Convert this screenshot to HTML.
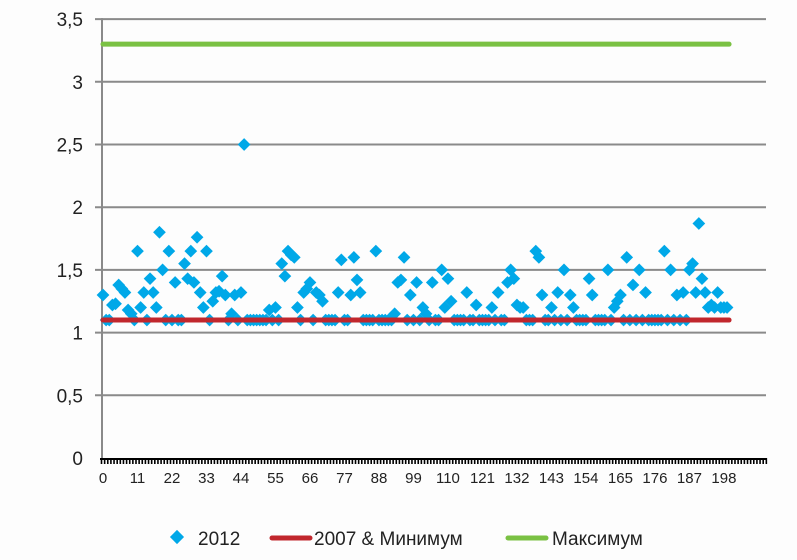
<!DOCTYPE html>
<html><head><meta charset="utf-8">
<style>
html,body{margin:0;padding:0;background:#fdfdfd;}
svg{display:block;font-family:"Liberation Sans","DejaVu Sans",sans-serif;}
</style></head>
<body>
<svg id="chart" width="797" height="560" viewBox="0 0 797 560">
<g id="grid"></g>
<g id="yaxis"></g>
<g id="xaxis"></g>
<g id="series"></g>
<g id="legend">
  <g>
    <rect x="172" y="532" width="10" height="10" fill="#00a8e8" transform="rotate(45 177 537)"></rect>
    <text x="198" y="545" font-size="19" fill="#222">2012</text>
  </g>
  <g>
    <line x1="272" y1="538" x2="310" y2="538" stroke="#c1272d" stroke-width="5" stroke-linecap="round"></line>
    <text x="314" y="545" font-size="19" fill="#222">2007 &amp; Минимум</text>
  </g>
  <g>
    <line x1="508" y1="538" x2="546" y2="538" stroke="#7ac143" stroke-width="5" stroke-linecap="round"></line>
    <text x="552" y="545" font-size="19" fill="#222">Максимум</text>
  </g>
</g>
</svg>
<script>
const values2012 = [1.3,1.1,1.1,1.22,1.23,1.38,1.35,1.32,1.18,1.15,1.1,1.65,1.2,1.32,1.1,1.43,1.32,1.2,1.8,1.5,
1.1,1.65,1.1,1.4,1.1,1.1,1.55,1.43,1.65,1.4,1.76,1.32,1.2,1.65,1.1,1.25,1.32,1.33,1.45,1.3,
1.1,1.15,1.3,1.1,1.32,2.5,1.1,1.1,1.1,1.1,1.1,1.1,1.1,1.18,1.1,1.2,1.1,1.55,1.45,1.65,
1.62,1.6,1.2,1.1,1.32,1.35,1.4,1.1,1.32,1.3,1.25,1.1,1.1,1.1,1.1,1.32,1.58,1.1,1.1,1.3,
1.6,1.42,1.32,1.1,1.1,1.1,1.1,1.65,1.1,1.1,1.1,1.1,1.1,1.15,1.4,1.42,1.6,1.1,1.3,1.1,
1.4,1.1,1.2,1.15,1.1,1.4,1.1,1.1,1.5,1.2,1.43,1.25,1.1,1.1,1.1,1.1,1.32,1.1,1.1,1.22,
1.1,1.1,1.1,1.1,1.2,1.1,1.32,1.1,1.1,1.4,1.5,1.43,1.22,1.2,1.2,1.1,1.1,1.1,1.65,1.6,
1.3,1.1,1.1,1.2,1.1,1.32,1.1,1.5,1.1,1.3,1.2,1.1,1.1,1.1,1.1,1.43,1.3,1.1,1.1,1.1,
1.1,1.5,1.1,1.2,1.25,1.3,1.1,1.6,1.1,1.38,1.1,1.5,1.1,1.32,1.1,1.1,1.1,1.1,1.1,1.65,
1.1,1.5,1.1,1.3,1.1,1.32,1.1,1.5,1.55,1.32,1.87,1.43,1.32,1.2,1.22,1.2,1.32,1.2,1.2,1.2];
const minimumValue = [1.1];
const maximumValue = [3.3];
const yTicks = [0,0.5,1,1.5,2,2.5,3,3.5];
const yTickLabels = ["0","0,5","1","1,5","2","2,5","3","3,5"];
const xTickLabels = [0,11,22,33,44,55,66,77,88,99,110,121,132,143,154,165,176,187,198];
const categoryCount = [212];

const NS="http://www.w3.org/2000/svg";
const X0=103, XSTEP=3.136, Y0=458, YPX=125.4;
const xs=i=>X0+i*XSTEP;
const ys=v=>Y0-v*YPX;
function mk(tag,attrs,parent){const e=document.createElementNS(NS,tag);for(const k in attrs)e.setAttribute(k,attrs[k]);parent.appendChild(e);return e;}
const grid=document.getElementById('grid'),yax=document.getElementById('yaxis'),xax=document.getElementById('xaxis'),ser=document.getElementById('series');

yTicks.forEach((t,k)=>{
  const y=ys(t);
  if(t>0){const g=mk('line',{x1:95,y1:y,x2:766,y2:y,stroke:'#8a8a8a','stroke-width':2},grid);
  
  }
  const tl=mk('text',{x:83,y:y+7,'font-size':19,'text-anchor':'end',fill:'#222'},yax);
  tl.textContent=yTickLabels[k];
  
  
});
const ya=mk('line',{x1:102,y1:ys(3.5)-1,x2:102,y2:Y0,stroke:'#8a8a8a','stroke-width':2},yax);



const xa=mk('line',{x1:100,y1:Y0+1,x2:766,y2:Y0+1,stroke:'#000','stroke-width':2},xax);


for(let i=0;i<=categoryCount[0];i++){
  const x=xs(i)-1.5;
  const t=mk('line',{x1:x,y1:Y0,x2:x,y2:Y0+6,stroke:'#000','stroke-width':1.6},xax);
  
  
}
xTickLabels.forEach(v=>{
  const t=mk('text',{x:xs(v),y:Y0+25,'font-size':15,'text-anchor':'middle',fill:'#222'},xax);
  t.textContent=v;
  
  
});

const last=values2012.length-1;
const mx=mk('line',{x1:xs(0),y1:ys(maximumValue[0]),x2:xs(last)+2,y2:ys(maximumValue[0]),stroke:'#7ac143','stroke-width':5,'stroke-linecap':'round'},ser);



values2012.forEach((v,i)=>{
  const x=xs(i),y=ys(v);
  const d=mk('rect',{x:x-4.5,y:y-4.5,width:9,height:9,fill:'#00a8e8',transform:`rotate(45 ${x} ${y})`},ser);
  
  
});

const mn=mk('line',{x1:xs(0),y1:ys(minimumValue[0]),x2:xs(last)+2,y2:ys(minimumValue[0]),stroke:'#c1272d','stroke-width':5,'stroke-linecap':'round'},ser);


</script>
</body></html>
